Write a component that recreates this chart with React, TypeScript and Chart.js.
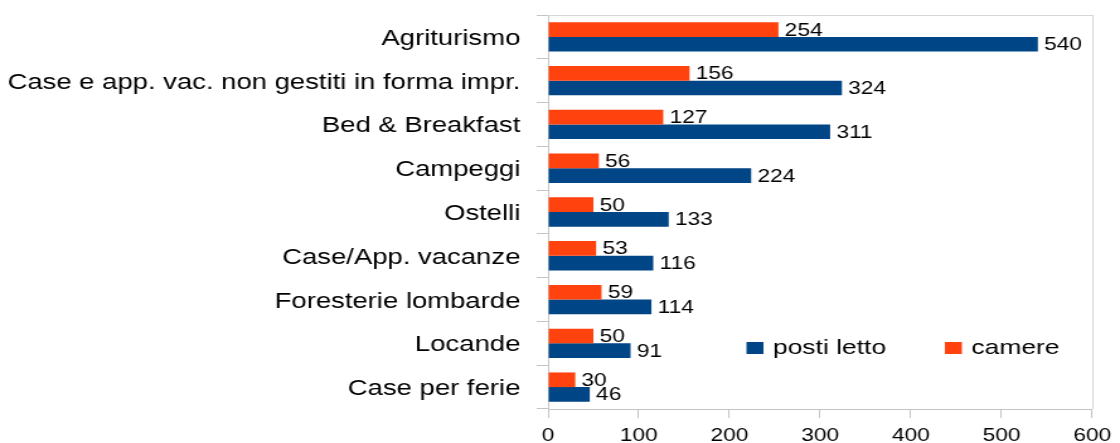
import React, { useEffect, useRef } from "react";
import { Chart, registerables } from "chart.js";

Chart.register(...registerables);

const CATEGORIES = [
  "Agriturismo",
  "Case e app. vac. non gestiti in forma impr.",
  "Bed & Breakfast",
  "Campeggi",
  "Ostelli",
  "Case/App. vacanze",
  "Foresterie lombarde",
  "Locande",
  "Case per ferie",
];
const CAMERE = [254, 156, 127, 56, 50, 53, 59, 50, 30];
const POSTI_LETTO = [540, 324, 311, 224, 133, 116, 114, 91, 46];
const X_MIN = 0;
const X_MAX = 600;
const X_STEP = 100;

const FONT = '"Liberation Sans", Arial, sans-serif';
const STRETCH = 1120 / 889;
const W = 889;
const H = 443;

const dataLabels = {
  id: "dataLabels",
  afterDatasetsDraw(chart: any) {
    const ctx = chart.ctx;
    ctx.save();
    ctx.font = `18px ${FONT}`;
    ctx.fillStyle = "#000";
    ctx.textAlign = "left";
    ctx.textBaseline = "middle";
    chart.data.datasets.forEach((ds: any, di: number) => {
      const meta = chart.getDatasetMeta(di);
      meta.data.forEach((el: any, i: number) => {
        ctx.fillText(String(ds.data[i]), el.x + 5, el.y + 1);
      });
    });
    ctx.restore();
  },
};

const frame = {
  id: "frame",
  afterDraw(chart: any) {
    const { ctx, chartArea } = chart;
    ctx.save();
    ctx.strokeStyle = "#d6d6d6";
    ctx.lineWidth = 1;
    ctx.beginPath();
    ctx.moveTo(chartArea.left, Math.round(chartArea.top) + 0.5);
    ctx.lineTo(chartArea.right, Math.round(chartArea.top) + 0.5);
    ctx.moveTo(Math.round(chartArea.right) + 0.5, chartArea.top);
    ctx.lineTo(Math.round(chartArea.right) + 0.5, chartArea.bottom);
    ctx.stroke();
    ctx.restore();
  },
};

const innerLegend = {
  id: "innerLegend",
  afterDraw(chart: any) {
    const ctx = chart.ctx;
    const ds = chart.data.datasets;
    const items = [
      { label: ds[1].label, color: ds[1].backgroundColor, x: 592.5 },
      { label: ds[0].label, color: ds[0].backgroundColor, x: 750 },
    ];
    ctx.save();
    ctx.font = `21px ${FONT}`;
    ctx.textAlign = "left";
    ctx.textBaseline = "alphabetic";
    items.forEach((it) => {
      ctx.fillStyle = it.color;
      ctx.fillRect(it.x, 342, 13.5, 12);
      ctx.fillStyle = "#000";
      ctx.fillText(it.label, it.x + 21, 353.5);
    });
    ctx.restore();
  },
};

export default function App() {
  const canvasRef = useRef<HTMLCanvasElement | null>(null);

  useEffect(() => {
    document.body.style.margin = "0";
    const canvas = canvasRef.current;
    if (!canvas) return;
    const chart = new Chart(canvas, {
      type: "bar",
      data: {
        labels: CATEGORIES,
        datasets: [
          {
            label: "camere",
            data: CAMERE,
            backgroundColor: "#ff420e",
            categoryPercentage: 0.67,
            barPercentage: 1,
          },
          {
            label: "posti letto",
            data: POSTI_LETTO,
            backgroundColor: "#004586",
            categoryPercentage: 0.67,
            barPercentage: 1,
          },
        ],
      },
      options: {
        indexAxis: "y",
        responsive: false,
        animation: false,
        devicePixelRatio: 1,
        layout: { padding: { top: 15, right: 18, left: 0, bottom: 0 } },
        plugins: {
          legend: { display: false },
          tooltip: { enabled: false },
        },
        scales: {
          x: {
            min: X_MIN,
            max: X_MAX,
            ticks: {
              stepSize: X_STEP,
              color: "#000",
              font: { family: FONT, size: 18 },
              padding: 7,
              maxRotation: 0,
            },
            grid: {
              drawOnChartArea: false,
              drawTicks: true,
              tickLength: 9,
              color: "#c4c4c4",
            },
            border: { color: "#c4c4c4" },
            afterFit(scale: any) {
              scale.height = 34;
              scale.paddingLeft = 0;
            },
          },
          y: {
            ticks: {
              color: "#000",
              font: { family: FONT, size: 21.8 },
              padding: 13,
              labelOffset: 2,
            },
            grid: {
              offset: true,
              drawOnChartArea: false,
              drawTicks: true,
              tickLength: 9,
              color: "#c4c4c4",
            },
            border: { color: "#c4c4c4" },
            afterFit(scale: any) {
              scale.width = 435;
              scale.paddingTop = 0;
              scale.paddingBottom = 0;
            },
          },
        },
      },
      plugins: [dataLabels, frame, innerLegend],
    } as any);
    return () => chart.destroy();
  }, []);

  return (
    <div style={{ width: 1120, height: H, overflow: "hidden" }}>
      <div
        style={{
          width: W,
          height: H,
          transform: `scaleX(${STRETCH})`,
          transformOrigin: "0 0",
        }}
      >
        <canvas ref={canvasRef} width={W} height={H} style={{ display: "block" }} />
      </div>
    </div>
  );
}
